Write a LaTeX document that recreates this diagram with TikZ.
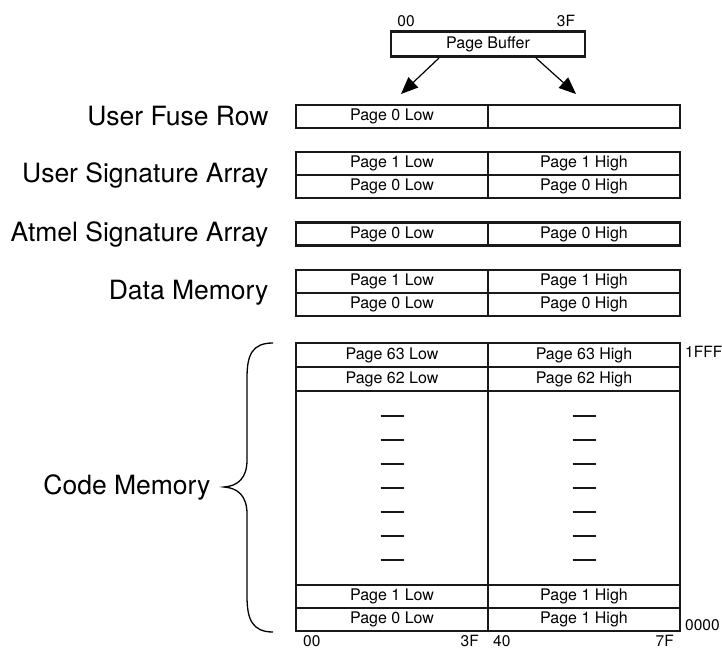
\documentclass[tikz,border=0pt]{standalone}
\usepackage{fontspec}
\setmainfont{TeX Gyre Heros}
\usetikzlibrary{arrows.meta}
\tikzset{mempanel/.style={
  x=1pt, y=-1pt,
  cell/.style={draw=black!90, line width=2.2pt, fill=white, minimum width=192pt, minimum height=23pt, inner sep=0pt, font=\fontsize{16}{17}\selectfont},
  big/.style={cell, minimum height=24pt},
  area/.style={font=\fontsize{26.5}{28}\selectfont, anchor=east},
  addr/.style={font=\fontsize{15.5}{16}\selectfont, inner sep=0pt},
  push/.style={-{Triangle[length=17pt,width=14pt]}, line width=1.2pt},
  tick/.style={line width=2.2pt, black!90},
}}
\begin{document}
\begin{tikzpicture}[mempanel]
\useasboundingbox (0,0) rectangle (722,650);

% ---- page buffer ----
\node[cell, minimum width=194pt, minimum height=25pt] (buf) at (488,44) {Page Buffer};
\node[addr] (buf00) at (406,21) {00};
\node[addr] (buf3F) at (566,21) {3F};
\coordinate (bufL) at (439,58);
\coordinate (bufR) at (536,58);
\coordinate (tipL) at (401,94);
\coordinate (tipR) at (576,94);
\draw[push] (bufL) -- (tipL);
\draw[push] (bufR) -- (tipR);

% ---- user fuse row ----
\node[cell] (fuseL) at (392,116.5) {Page 0 Low};
\node[cell] (fuseH) at (584,116.5) {};
\node[area] (fuse) at (272,116.5) {User Fuse Row};

% ---- user signature array ----
\node[cell] (usig1L) at (392,163.5) {Page 1 Low};
\node[cell] (usig1H) at (584,163.5) {Page 1 High};
\node[cell] (usig0L) at (392,186.5) {Page 0 Low};
\node[cell] (usig0H) at (584,186.5) {Page 0 High};
\node[area] (usig) at (272,175) {User Signature Array};

% ---- atmel signature array ----
\node[cell] (asig0L) at (392,234) {Page 0 Low};
\node[cell] (asig0H) at (584,234) {Page 0 High};
\node[area] (asig) at (272,234) {Atmel Signature Array};

% ---- data memory ----
\node[cell] (data1L) at (392,281.5) {Page 1 Low};
\node[cell] (data1H) at (584,281.5) {Page 1 High};
\node[cell] (data0L) at (392,304.5) {Page 0 Low};
\node[cell] (data0H) at (584,304.5) {Page 0 High};
\node[area] (data) at (272,293) {Data Memory};

% ---- code memory ----
\node[big] (code63L) at (392,355) {Page 63 Low};
\node[big] (code63H) at (584,355) {Page 63 High};
\node[big] (code62L) at (392,379) {Page 62 Low};
\node[big] (code62H) at (584,379) {Page 62 High};
\node[cell, minimum height=194pt] (codeL) at (392,488) {};
\node[cell, minimum height=194pt] (codeH) at (584,488) {};
\node[cell] (code1L) at (392,596.5) {Page 1 Low};
\node[cell] (code1H) at (584,596.5) {Page 1 High};
\node[cell] (code0L) at (392,619.5) {Page 0 Low};
\node[cell] (code0H) at (584,619.5) {Page 1 High};
\foreach \y in {416,440,...,560} {
  \draw[tick] (380.5,\y) -- (403.5,\y);
  \draw[tick] (572.5,\y) -- (595.5,\y);
}
\node[area] (code) at (214,487) {Code Memory};
\draw[line width=1.3pt] (273,343) .. controls (252,343) and (247,355) .. (247,378)
  -- (247,460) .. controls (247,478) and (238,486) .. (224,487)
  .. controls (238,488) and (247,496) .. (247,514)
  -- (247,596) .. controls (247,619) and (252,632) .. (273,632);

% ---- addresses ----
\node[addr, anchor=west] (top) at (685,352) {1FFF};
\node[addr, anchor=west] (bot) at (685,625) {0000};
\node[addr, anchor=west] (lo00) at (303,641) {00};
\node[addr, anchor=east] (lo3F) at (479,641) {3F};
\node[addr, anchor=west] (hi40) at (493,641) {40};
\node[addr, anchor=east] (hi7F) at (674,641) {7F};

\end{tikzpicture}
\end{document}
